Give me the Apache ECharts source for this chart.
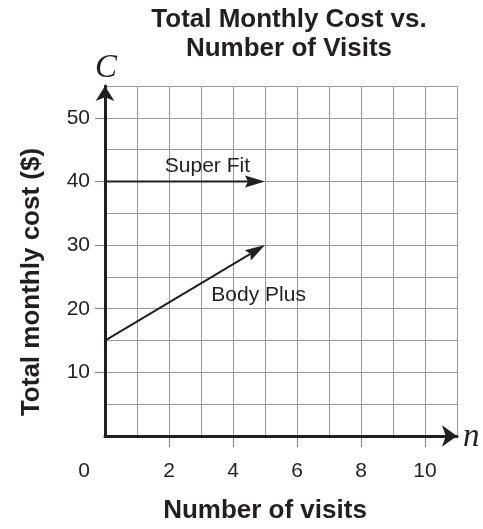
<!DOCTYPE html>
<html>
<head>
<meta charset="utf-8">
<script src="https://cdn.jsdelivr.net/npm/echarts@6/dist/echarts.min.js"></script>
<style>html,body{margin:0;padding:0;background:#fff}#c{width:483px;height:529px}</style>
</head>
<body>
<div id="c"></div>
<script>
// ---- data ----
const seriesNames = ['Super Fit', 'Body Plus'];
const startVisits = [0, 0];
const startCost = [40, 15];
const endVisits = [5, 5];
const endCost = [40, 30];
const labelVisits = [3.2, 4.8];
const labelCost = [42.4, 22.1];
const xTickValues = [2, 4, 6, 8, 10];
const xLabelValues = [0, 2, 4, 6, 8, 10];
const yTickValues = [10, 20, 30, 40, 50];

const INK = '#231f20';
const GRID = '#999999';
const TICK = '#8a8a8a';
const FONT = '"Liberation Sans", Arial, Helvetica, sans-serif';
const SERIF_IT = 'italic 33px "Liberation Serif", "Times New Roman", serif';

const chart = echarts.init(document.getElementById('c'), null, {renderer: 'canvas'});

const segData = seriesNames.map((n, i) => [startVisits[i], startCost[i], endVisits[i], endCost[i]]);
const labelData = seriesNames.map((n, i) => ({name: n, value: [labelVisits[i], labelCost[i]]}));

function arrowItem(params, api) {
  const p0 = api.coord([api.value(0), api.value(1)]);
  const p1 = api.coord([api.value(2), api.value(3)]);
  const dx = p1[0] - p0[0], dy = p1[1] - p0[1];
  const len = Math.hypot(dx, dy);
  const ux = dx / len, uy = dy / len;
  const L = 20, W = 6, N = 3;
  const base = [p1[0] - ux * L, p1[1] - uy * L];
  const notch = [p1[0] - ux * (L - N), p1[1] - uy * (L - N)];
  const left = [base[0] - uy * W, base[1] + ux * W];
  const right = [base[0] + uy * W, base[1] - ux * W];
  return {
    type: 'group',
    children: [
      {type: 'line', shape: {x1: p0[0], y1: p0[1], x2: notch[0], y2: notch[1]}, style: {stroke: INK, lineWidth: 2}},
      {type: 'polygon', shape: {points: [p1, left, notch, right]}, style: {fill: INK}}
    ]
  };
}

const boldName = {fontFamily: FONT, fontSize: 26, fontWeight: 'bold', color: INK};

chart.setOption({
  animation: false,
  title: {
    text: 'Total Monthly Cost vs.\nNumber of Visits',
    left: 289,
    top: 5,
    textAlign: 'center',
    padding: 0,
    textStyle: {fontFamily: FONT, fontSize: 26, fontWeight: 'bold', color: INK, lineHeight: 29}
  },
  grid: {left: 105, right: 26, top: 86, bottom: 91, containLabel: false},
  xAxis: [
    {
      type: 'value', min: 0, max: 11, interval: 1, position: 'bottom',
      axisLine: {show: true, onZero: false, lineStyle: {color: INK, width: 3}, symbol: ['none', 'arrow'], symbolSize: [16, 15], symbolOffset: [0, 0]},
      axisTick: {show: false},
      axisLabel: {show: false},
      splitLine: {show: true, lineStyle: {color: GRID, width: 1}},
      z: 3
    },
    {
      type: 'value', min: 0, max: 11, position: 'bottom',
      name: 'Number of visits', nameLocation: 'middle', nameGap: 62,
      nameTextStyle: Object.assign({}, boldName, {padding: [0, 32, 0, 0]}),
      axisLine: {show: false, onZero: false},
      axisTick: {show: true, inside: false, customValues: xTickValues, length: 11, lineStyle: {color: TICK, width: 1.2}},
      axisLabel: {
        show: true, customValues: xLabelValues, margin: 25, fontFamily: FONT, fontSize: 21, color: INK,
        formatter: v => v === 0 ? '{z|0}' : String(v),
        rich: {z: {fontFamily: FONT, fontSize: 21, color: INK, padding: [0, 42, 0, 0]}}
      },
      splitLine: {show: false}
    }
  ],
  yAxis: [
    {
      type: 'value', min: 0, max: 55, interval: 5, position: 'left',
      axisLine: {show: true, onZero: false, lineStyle: {color: INK, width: 3}, symbol: ['none', 'arrow'], symbolSize: [14, 15], symbolOffset: [0, 0]},
      axisTick: {show: false},
      axisLabel: {show: false},
      splitLine: {show: true, lineStyle: {color: GRID, width: 1}},
      z: 3
    },
    {
      type: 'value', min: 0, max: 55, position: 'left',
      name: 'Total monthly cost ($)', nameLocation: 'middle', nameGap: 60,
      nameTextStyle: Object.assign({}, boldName, {padding: [0, 42, 0, 0]}),
      axisLine: {show: false, onZero: false},
      axisTick: {show: true, inside: false, customValues: yTickValues, length: 10, lineStyle: {color: TICK, width: 1.2}},
      axisLabel: {show: true, customValues: yTickValues, margin: 15, fontFamily: FONT, fontSize: 21, color: INK},
      splitLine: {show: false}
    }
  ],
  graphic: [
    {type: 'text', left: 95, top: 52, z: 10, style: {text: 'C', font: SERIF_IT, fill: INK}},
    {type: 'text', left: 463, top: 421, z: 10, style: {text: 'n', font: SERIF_IT, fill: INK}}
  ],
  series: [
    {
      type: 'custom', name: 'segments', renderItem: arrowItem, data: segData,
      xAxisIndex: 0, yAxisIndex: 0,
      encode: {x: [0, 2], y: [1, 3]}, clip: false, silent: true, z: 5
    },
    {
      type: 'scatter', name: 'labels', data: labelData, symbolSize: 0, silent: true, z: 6,
      xAxisIndex: 0, yAxisIndex: 0,
      itemStyle: {opacity: 1},
      label: {show: true, position: 'inside', formatter: p => p.name, fontFamily: FONT, fontSize: 21, color: INK, opacity: 1}
    }
  ]
});
</script>
</body>
</html>
